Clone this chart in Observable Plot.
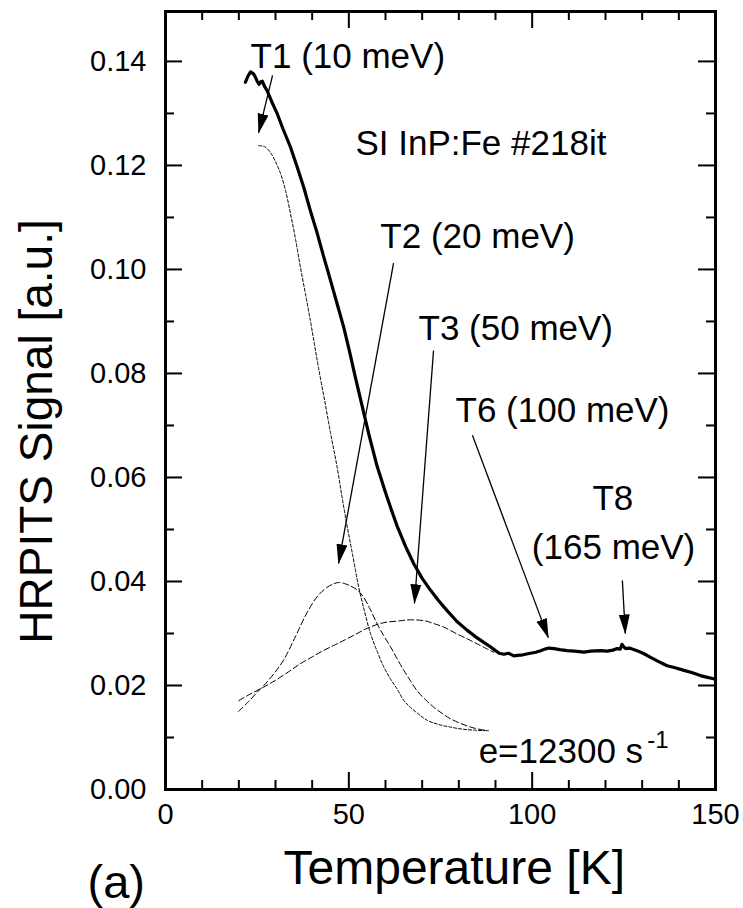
<!DOCTYPE html>
<html>
<head>
<meta charset="utf-8">
<script src="https://cdn.jsdelivr.net/npm/d3@7"></script>
<script src="https://cdn.jsdelivr.net/npm/@observablehq/plot@0.6"></script>
<style>
  html, body { margin: 0; padding: 0; background: white; }
</style>
</head>
<body>
<script>
// ---- Measured curve (thick line) ----
const mainT = [21.8, 22.5, 23.2, 24.0, 24.5, 25.0, 25.5, 26.0, 26.4, 27.0, 27.7, 29.0, 30.5, 32.0, 34.1, 36.0, 37.7, 39.5, 41.4, 43.0, 45.0, 46.8, 48.6, 50.2, 51.8, 53.2, 55.5, 57.7, 60.0, 61.6, 63.2, 65.5, 67.7, 70.0, 72.3, 74.5, 76.8, 79.5, 82.3, 84.5, 86.8, 88.5, 90.0, 91.0, 92.3, 93.5, 95.0, 96.0, 97.5, 99.5, 101.0, 102.3, 103.5, 104.5, 106.0, 107.5, 109.5, 111.5, 114.1, 116.0, 118.6, 120.5, 122.0, 123.2, 124.0, 124.5, 125.0, 125.5, 126.5, 128.6, 130.5, 132.3, 134.5, 136.8, 139.0, 141.4, 143.5, 145.9, 147.5, 149.5, 150.0];
const mainS = [0.1360, 0.1372, 0.1380, 0.1376, 0.1370, 0.1362, 0.1356, 0.1361, 0.1362, 0.1352, 0.1344, 0.1322, 0.1299, 0.1271, 0.1235, 0.1195, 0.1158, 0.1113, 0.1069, 0.1028, 0.0979, 0.0934, 0.0889, 0.0842, 0.0792, 0.0750, 0.0682, 0.0622, 0.0571, 0.0538, 0.0506, 0.0467, 0.0434, 0.0406, 0.0383, 0.0363, 0.0344, 0.0323, 0.0306, 0.0294, 0.0283, 0.0275, 0.0267, 0.0262, 0.0260, 0.0262, 0.0257, 0.0258, 0.0259, 0.0262, 0.0264, 0.0267, 0.0270, 0.0272, 0.0271, 0.0269, 0.0267, 0.0266, 0.0264, 0.0266, 0.0267, 0.0266, 0.0268, 0.0271, 0.0270, 0.0279, 0.0274, 0.0271, 0.0272, 0.0267, 0.0261, 0.0254, 0.0246, 0.0238, 0.0234, 0.0229, 0.0225, 0.0219, 0.0216, 0.0213, 0.0211];

// ---- Fitted components (dashed) ----
const t1T = [25.4, 27.0, 28.6, 30.0, 31.4, 32.8, 34.1, 35.5, 36.8, 38.2, 39.5, 40.6, 41.7, 43.4, 45.0, 46.8, 48.2, 49.6, 51.2, 52.7, 54.3, 55.9, 57.7, 59.5, 61.4, 63.2, 65.0, 66.8, 69.0, 71.4, 74.5, 77.7, 81.0, 84.5, 88.0];
const t1S = [0.1238, 0.1236, 0.1225, 0.1207, 0.1184, 0.1150, 0.1107, 0.1057, 0.1004, 0.0952, 0.0902, 0.0857, 0.0812, 0.0748, 0.0686, 0.0620, 0.0560, 0.0504, 0.0445, 0.0389, 0.0342, 0.0300, 0.0266, 0.0236, 0.0212, 0.0193, 0.0171, 0.0158, 0.0145, 0.0133, 0.0125, 0.0120, 0.0116, 0.0114, 0.0113];

const t2T = [19.9, 22.5, 25.0, 26.8, 29.5, 32.3, 35.5, 38.6, 41.5, 44.1, 46.0, 47.2, 48.8, 50.6, 52.4, 54.0, 55.8, 57.7, 59.5, 61.4, 63.2, 65.0, 66.8, 68.6, 71.0, 73.2, 75.5, 77.7, 80.5, 83.2, 85.5, 88.1];
const t2S = [0.0150, 0.0168, 0.0187, 0.0200, 0.0222, 0.0250, 0.0295, 0.0340, 0.0372, 0.0389, 0.0396, 0.0398, 0.0396, 0.0391, 0.0383, 0.0370, 0.0347, 0.0319, 0.0296, 0.0274, 0.0251, 0.0229, 0.0209, 0.0190, 0.0172, 0.0158, 0.0146, 0.0136, 0.0127, 0.0120, 0.0116, 0.0113];

const t3T = [20.0, 23.0, 26.8, 30.0, 33.5, 36.8, 40.0, 43.0, 45.9, 49.0, 52.0, 55.0, 58.0, 60.5, 63.6, 65.9, 68.5, 71.0, 73.2, 76.0, 79.5, 82.5, 85.0, 87.5, 89.5];
const t3S = [0.0171, 0.0183, 0.0197, 0.0210, 0.0226, 0.0242, 0.0255, 0.0267, 0.0277, 0.0288, 0.0299, 0.0310, 0.0318, 0.0322, 0.0324, 0.0326, 0.0326, 0.0324, 0.0319, 0.0312, 0.0299, 0.0289, 0.0280, 0.0271, 0.0264];

// ---- Ticks ----
const xMajor = [0, 50, 100, 150];
const xMinor = [10, 20, 30, 40, 60, 70, 80, 90, 110, 120, 130, 140];
const yMajor = [0, 0.02, 0.04, 0.06, 0.08, 0.10, 0.12, 0.14];
const yMinor = [0.01, 0.03, 0.05, 0.07, 0.09, 0.11, 0.13];

// ---- Annotations ----
const labelText = ["T1 (10 meV)", "SI InP:Fe #218it", "T2 (20 meV)", "T3 (50 meV)", "T6 (100 meV)", "e=12300 s"];
const labelX = [23.2, 51.8, 58.6, 69.0, 79.1, 85.4];
const labelY = [0.1388, 0.1221, 0.1042, 0.0865, 0.0706, 0.0050];

const t8Text = ["T8", "(165 meV)"];
const t8X = [122.0, 122.2];
const t8Y = [0.0537, 0.0444];

const supText = ["-1"];
const supX = [131.4];
const supY = [0.0079];

const arrowX1 = [29.2, 62.2, 73.1, 83.7, 124.6];
const arrowY1 = [0.1373, 0.1012, 0.0844, 0.0681, 0.0402];
const arrowX2 = [25.4, 47.2, 67.9, 104.4, 125.4];
const arrowY2 = [0.1263, 0.0435, 0.0358, 0.0292, 0.0300];

const xTitle = "Temperature [K]";
const yTitle = "HRPITS Signal [a.u.]";
const panelTag = "(a)";

// ---- Build tables ----
const zip = (xs, ys) => xs.map((x, i) => ({x, y: ys[i]}));
const mainData = zip(mainT, mainS);
const t1Data = zip(t1T, t1S);
const t2Data = zip(t2T, t2S);
const t3Data = zip(t3T, t3S);
const labels = labelText.map((t, i) => ({t, x: labelX[i], y: labelY[i]}));
const t8Labels = t8Text.map((t, i) => ({t, x: t8X[i], y: t8Y[i]}));
const supLabels = supText.map((t, i) => ({t, x: supX[i], y: supY[i]}));
const arrows = arrowX1.map((x1, i) => ({x1, y1: arrowY1[i], x2: arrowX2[i], y2: arrowY2[i]}));

// filled triangular arrow head
const filledArrow = (color, context) => {
  const ns = "http://www.w3.org/2000/svg";
  const doc = (context && context.document) || document;
  const m = doc.createElementNS(ns, "marker");
  m.setAttribute("viewBox", "0 -6 20 12");
  m.setAttribute("refX", "19");
  m.setAttribute("refY", "0");
  m.setAttribute("markerUnits", "userSpaceOnUse");
  m.setAttribute("markerWidth", "20");
  m.setAttribute("markerHeight", "12");
  m.setAttribute("orient", "auto");
  const p = doc.createElementNS(ns, "path");
  p.setAttribute("d", "M0,-5.5L20,0L0,5.5Z");
  p.setAttribute("fill", color);
  p.setAttribute("stroke", "none");
  m.appendChild(p);
  return m;
};

const W = 743, H = 908;
const mL = 165, mR = 28, mT = 11, mB = 119;
const fw = W - mL - mR, fh = H - mT - mB;
const majLen = 17, minLen = 9;
const font = "'Liberation Sans', Arial, Helvetica, sans-serif";

const chart = Plot.plot({
  width: W,
  height: H,
  marginLeft: mL,
  marginRight: mR,
  marginTop: mT,
  marginBottom: mB,
  style: {fontFamily: font, background: "white", color: "black", overflow: "visible"},
  x: {domain: [0, 150]},
  y: {domain: [0, 0.1496]},
  marks: [
    // dashed fit components
    Plot.line(t1Data, {x: "x", y: "y", stroke: "black", strokeWidth: 1, strokeDasharray: "3,2", curve: "catmull-rom"}),
    Plot.line(t2Data, {x: "x", y: "y", stroke: "black", strokeWidth: 1, strokeDasharray: "6,3", curve: "catmull-rom"}),
    Plot.line(t3Data, {x: "x", y: "y", stroke: "black", strokeWidth: 1, strokeDasharray: "6,3", curve: "catmull-rom"}),
    // measured signal
    Plot.line(mainData, {x: "x", y: "y", stroke: "black", strokeWidth: 3.2, strokeLinejoin: "round"}),
    // arrows
    Plot.link(arrows, {x1: "x1", y1: "y1", x2: "x2", y2: "y2", stroke: "black", strokeWidth: 1.3, markerEnd: filledArrow}),
    // annotations
    Plot.text(labels, {x: "x", y: "y", text: "t", textAnchor: "start", lineAnchor: "bottom", fontSize: 35, fill: "black"}),
    Plot.text(t8Labels, {x: "x", y: "y", text: "t", textAnchor: "middle", lineAnchor: "bottom", fontSize: 35, fill: "black"}),
    Plot.text(supLabels, {x: "x", y: "y", text: "t", textAnchor: "start", lineAnchor: "bottom", fontSize: 24, fill: "black"}),
    // inward ticks: bottom / top
    Plot.tickX(xMajor, {x: d => d, insetTop: fh - majLen, stroke: "black", strokeWidth: 2}),
    Plot.tickX(xMinor, {x: d => d, insetTop: fh - minLen, stroke: "black", strokeWidth: 2}),
    Plot.tickX(xMajor, {x: d => d, insetBottom: fh - majLen, stroke: "black", strokeWidth: 2}),
    Plot.tickX(xMinor, {x: d => d, insetBottom: fh - minLen, stroke: "black", strokeWidth: 2}),
    // inward ticks: left / right
    Plot.tickY(yMajor, {y: d => d, insetRight: fw - majLen, stroke: "black", strokeWidth: 2}),
    Plot.tickY(yMinor, {y: d => d, insetRight: fw - minLen, stroke: "black", strokeWidth: 2}),
    Plot.tickY(yMajor, {y: d => d, insetLeft: fw - majLen, stroke: "black", strokeWidth: 2}),
    Plot.tickY(yMinor, {y: d => d, insetLeft: fw - minLen, stroke: "black", strokeWidth: 2}),
    Plot.frame({stroke: "black", strokeWidth: 3}),
    // tick labels
    Plot.axisX(xMajor, {anchor: "bottom", tickSize: 0, tickPadding: 14, fontSize: 29, label: null}),
    Plot.axisY(yMajor, {anchor: "left", tickSize: 0, tickPadding: 19, fontSize: 29, tickFormat: d3.format(".2f"), label: null}),
    // axis titles
    Plot.text([xTitle], {frameAnchor: "bottom-left", dx: 283 - mL, dy: 94, textAnchor: "start", lineAnchor: "bottom", fontSize: 48, fill: "black"}),
    Plot.text([yTitle], {frameAnchor: "left", dx: 51 - mL, dy: 31, rotate: -90, textAnchor: "middle", lineAnchor: "bottom", fontSize: 46, fill: "black"}),
    Plot.text([panelTag], {frameAnchor: "bottom-left", dx: 87 - mL, dy: 108, textAnchor: "start", lineAnchor: "bottom", fontSize: 47, fill: "black"})
  ]
});

document.body.appendChild(chart);
</script>
</body>
</html>
